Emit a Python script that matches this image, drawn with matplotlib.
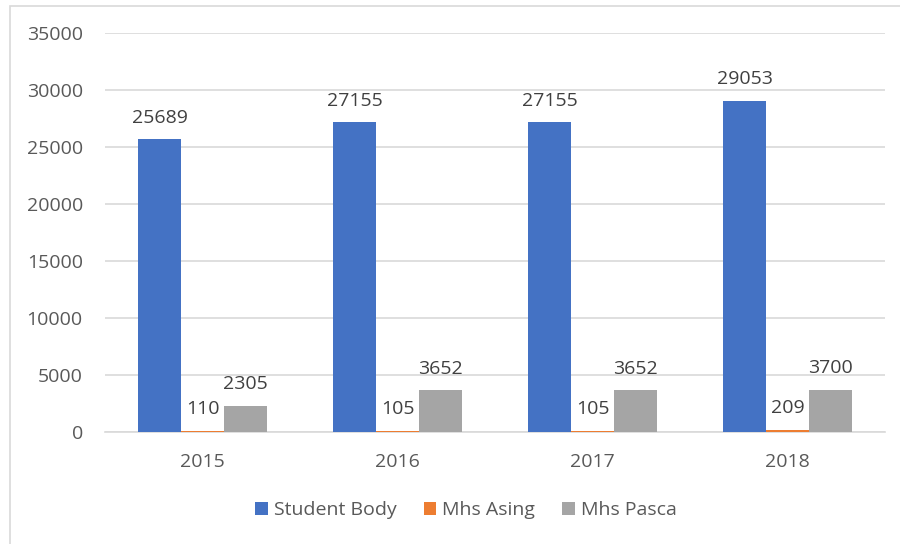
import matplotlib
matplotlib.use("Agg")
import matplotlib.pyplot as plt
from matplotlib.patches import Rectangle
import numpy as np

plt.rcParams['font.family'] = ['Open Sans', 'DejaVu Sans']

years = ["2015", "2016", "2017", "2018"]
series_names = ["Student Body", "Mhs Asing", "Mhs Pasca"]
student_body = [25689, 27155, 27155, 29053]
mhs_asing = [110, 105, 105, 209]
mhs_pasca = [2305, 3652, 3652, 3700]
colors = ["#4472C4", "#ED7D31", "#A5A5A5"]
yticks = [0, 5000, 10000, 15000, 20000, 25000, 30000, 35000]

fig = plt.figure(figsize=(9, 5.44), dpi=100)
ax = fig.add_axes([105/900, 1-432/544, 780/900, (432-33)/544])

# chart border
fig.patches.append(Rectangle((10/900, -0.05), 1.2, 1-6/544+0.05, transform=fig.transFigure,
                             fill=False, edgecolor="#D9D9D9", linewidth=1.2, zorder=0))

x = np.arange(len(years))
w = 0.22
text_col = "#595959"
fs = 14
for i, (vals, name, c) in enumerate(zip([student_body, mhs_asing, mhs_pasca], series_names, colors)):
    pos = x + (i - 1) * w
    bars = ax.bar(pos, vals, width=w, color=c, label=name, zorder=3)
    for b, v in zip(bars, vals):
        ax.annotate(str(v), (b.get_x() + b.get_width()/2, v), xytext=(0, 9),
                    textcoords="offset points", ha="center", va="bottom",
                    fontsize=fs, color="#404040")

ax.set_xlim(-0.5, 3.5)
ax.set_ylim(0, 35000)
ax.set_yticks(yticks)
ax.set_yticklabels([str(t) for t in yticks])
ax.set_xticks(x)
ax.set_xticklabels(years)
ax.tick_params(axis="both", length=0, labelsize=fs, labelcolor=text_col)
ax.tick_params(axis="y", pad=16)
ax.tick_params(axis="x", pad=15)
ax.grid(axis="y", color="#D9D9D9", linewidth=1.2, zorder=0)
for s in ["top", "right", "left"]:
    ax.spines[s].set_visible(False)
ax.spines["bottom"].set_color("#D9D9D9")
ax.spines["bottom"].set_linewidth(1.2)

leg = fig.legend(loc="center", bbox_to_anchor=(466/900, 1-510/544), ncol=3, frameon=False,
                 fontsize=fs, handlelength=0.65, handleheight=0.65, handletextpad=0.3,
                 columnspacing=1.4)
for t in leg.get_texts():
    t.set_color(text_col)

fig.savefig("out.png", dpi=100)
